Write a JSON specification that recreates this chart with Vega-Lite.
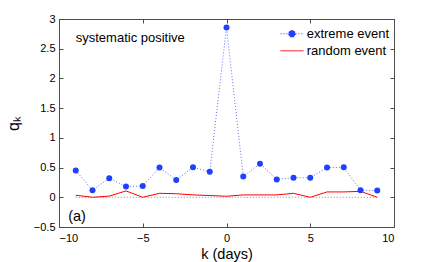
{
  "$schema": "https://vega.github.io/schema/vega-lite/v6.json",
  "autosize": "none",
  "width": 335,
  "height": 208,
  "padding": {"left": 59, "top": 19, "right": 42, "bottom": 35},
  "background": "white",
  "config": {
    "font": "Liberation Sans",
    "view": {"stroke": "#4d4d4d", "strokeWidth": 1},
    "axis": {
      "grid": false,
      "domainColor": "#4d4d4d",
      "tickColor": "#4d4d4d",
      "tickSize": -4,
      "labelFont": "Liberation Sans",
      "labelFontSize": 11,
      "labelColor": "black",
      "titleFont": "Liberation Sans",
      "titleFontWeight": "normal",
      "titleColor": "black"
    }
  },
  "datasets": {
    "series": [
      {"k": -9, "extreme": 0.45, "random": 0.034},
      {"k": -8, "extreme": 0.12, "random": 0.0},
      {"k": -7, "extreme": 0.32, "random": 0.02},
      {"k": -6, "extreme": 0.18, "random": 0.107},
      {"k": -5, "extreme": 0.19, "random": 0.0},
      {"k": -4, "extreme": 0.50, "random": 0.067},
      {"k": -3, "extreme": 0.29, "random": 0.06},
      {"k": -2, "extreme": 0.505, "random": 0.04},
      {"k": -1, "extreme": 0.43, "random": 0.03},
      {"k": 0, "extreme": 2.855, "random": 0.017},
      {"k": 1, "extreme": 0.35, "random": 0.04},
      {"k": 2, "extreme": 0.566, "random": 0.04},
      {"k": 3, "extreme": 0.30, "random": 0.04},
      {"k": 4, "extreme": 0.33, "random": 0.067},
      {"k": 5, "extreme": 0.33, "random": 0.0},
      {"k": 6, "extreme": 0.50, "random": 0.09},
      {"k": 7, "extreme": 0.505, "random": 0.09},
      {"k": 8, "extreme": 0.12, "random": 0.10},
      {"k": 9, "extreme": 0.115, "random": 0.0}
    ],
    "notes": [
      {"x": -9, "y": 2.68, "label": "systematic positive", "size": 13},
      {"x": -9.45, "y": -0.33, "label": "(a)", "size": 14.5}
    ]
  },
  "resolve": {"axis": {"x": "independent", "y": "independent"}},
  "layer": [
    {
      "data": {"name": "series"},
      "mark": {"type": "line", "color": "#8c8c8c", "strokeDash": [1, 2], "strokeWidth": 1},
      "encoding": {
        "x": {
          "field": "k", "type": "quantitative",
          "scale": {"domain": [-10, 10], "nice": false, "zero": false},
          "axis": {"orient": "top", "labels": false, "title": null, "values": [-10, -5, 0, 5, 10]}
        },
        "y": {
          "datum": 0, "type": "quantitative",
          "scale": {"domain": [-0.5, 3], "nice": false, "zero": false},
          "axis": {"orient": "right", "labels": false, "title": null, "values": [-0.5, 0, 0.5, 1, 1.5, 2, 2.5, 3]}
        }
      }
    },
    {
      "data": {"name": "series"},
      "mark": {"type": "line", "strokeWidth": 1},
      "encoding": {
        "x": {
          "field": "k", "type": "quantitative",
          "axis": {"orient": "bottom", "title": "k (days)", "titleFontSize": 14.5, "titlePadding": 4, "labelPadding": 9, "values": [-10, -5, 0, 5, 10], "format": "~r"}
        },
        "y": {
          "field": "random", "type": "quantitative",
          "axis": {"orient": "left", "title": "qₖ", "titleFontSize": 16, "titlePadding": 12, "labelPadding": 8, "values": [-0.5, 0, 0.5, 1, 1.5, 2, 2.5, 3], "format": "~r"}
        },
        "color": {
          "datum": "random event",
          "type": "nominal",
          "scale": {"domain": ["extreme event", "random event"], "range": ["#1f40ff", "#ff0000"]},
          "legend": {
            "title": null,
            "orient": "none",
            "legendX": 225.5,
            "legendY": 7.3,
            "padding": 0,
            "symbolSize": 196,
            "symbolStrokeWidth": 1,
            "rowPadding": 2,
            "labelOffset": 7.2,
            "labelFontSize": 13,
            "labelFont": "Liberation Sans",
            "labelColor": "black",
            "encode": {
              "symbols": {
                "update": {
                  "shape": {"signal": "datum.value === 'extreme event' ? 'M-1.65,0H1.65M0.49,0A0.49,0.49 0 1 1 -0.49,0A0.49,0.49 0 1 1 0.49,0' : 'M-1.65,0H1.65'"},
                  "fill": {"signal": "datum.value === 'extreme event' ? '#1f40ff' : 'transparent'"},
                  "stroke": {"signal": "datum.value === 'extreme event' ? '#1f40ff' : '#ff0000'"},
                  "strokeDash": {"signal": "datum.value === 'extreme event' ? [1, 2] : [1, 0]"},
                  "strokeWidth": {"value": 1},
                  "opacity": {"value": 1}
                }
              }
            }
          }
        }
      }
    },
    {
      "data": {"name": "series"},
      "mark": {"type": "line", "color": "#1f40ff", "strokeDash": [1, 2], "strokeWidth": 1, "opacity": 0.75},
      "encoding": {
        "x": {"field": "k", "type": "quantitative", "axis": null},
        "y": {"field": "extreme", "type": "quantitative", "axis": null}
      }
    },
    {
      "data": {"name": "series"},
      "mark": {"type": "point", "color": "#1f40ff", "filled": true, "size": 36, "opacity": 1},
      "encoding": {
        "x": {"field": "k", "type": "quantitative", "axis": null},
        "y": {"field": "extreme", "type": "quantitative", "axis": null}
      }
    },
    {
      "data": {"name": "notes"},
      "mark": {"type": "text", "align": "left", "baseline": "middle", "font": "Liberation Sans", "color": "black"},
      "encoding": {
        "x": {"field": "x", "type": "quantitative", "axis": null},
        "y": {"field": "y", "type": "quantitative", "axis": null},
        "text": {"field": "label"},
        "size": {"field": "size", "type": "quantitative", "scale": null, "legend": null}
      }
    }
  ]
}
